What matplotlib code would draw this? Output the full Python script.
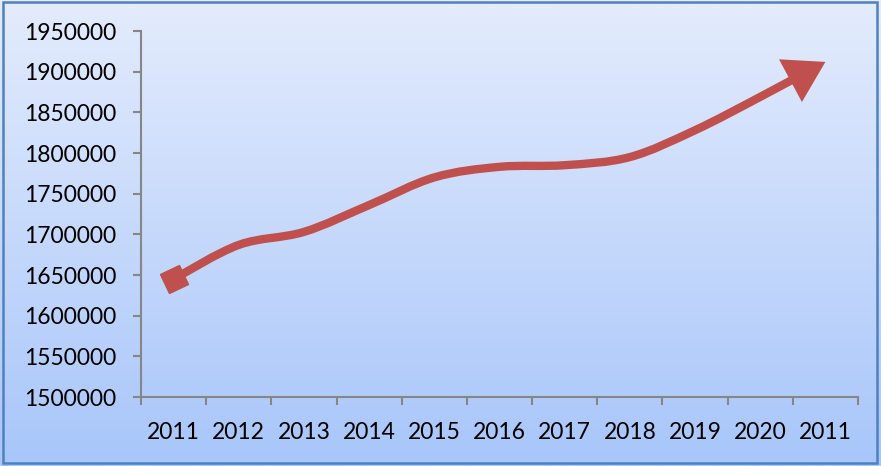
import matplotlib
matplotlib.use("Agg")
import matplotlib.pyplot as plt
import numpy as np
from matplotlib.path import Path
from matplotlib.patches import FancyArrowPatch, Rectangle
from matplotlib.markers import MarkerStyle
from matplotlib.transforms import Affine2D

plt.rcParams['font.family'] = ['Lato', 'DejaVu Sans']

years = ['2011', '2012', '2013', '2014', '2015', '2016',
         '2017', '2018', '2019', '2020', '2011']
values = [1645000, 1687000, 1703000, 1736000, 1770000, 1783000,
          1785000, 1795000, 1828000, 1869000, 1912000]
yticks = list(range(1500000, 1950001, 50000))

line_color = '#C0504D'
axis_gray = '#868686'

fig = plt.figure(figsize=(8.81, 4.66), dpi=100)

# gradient background over the whole figure
bg = fig.add_axes([0, 0, 1, 1], zorder=-10)
top = np.array([228, 236, 253]) / 255.0
bot = np.array([168, 198, 250]) / 255.0
t = np.linspace(0, 1, 256)[:, None]
grad = (top * (1 - t) + bot * t)[:, None, :]
bg.imshow(grad, aspect='auto', extent=[0, 1, 0, 1], origin='upper')
bg.set_axis_off()

# border
fig.patches.append(Rectangle((0.003, 0.006), 0.992, 0.99, transform=fig.transFigure,
                             fill=False, edgecolor='#4F81BD', lw=1.8))

ax = fig.add_axes([141 / 881, 69 / 466, 717 / 881, 366 / 466])
ax.patch.set_alpha(0)

x = np.arange(len(values))
y = np.array(values, dtype=float)

# smooth curve through the points (Catmull-Rom as cubic Bezier segments)
verts = [(x[0], y[0])]
codes = [Path.MOVETO]
n = len(x)
for i in range(n - 1):
    p0 = (x[i - 1], y[i - 1]) if i > 0 else (x[i], y[i])
    p1 = (x[i], y[i])
    p2 = (x[i + 1], y[i + 1])
    p3 = (x[i + 2], y[i + 2]) if i + 2 < n else (x[i + 1], y[i + 1])
    c1 = (p1[0] + (p2[0] - p0[0]) / 6, p1[1] + (p2[1] - p0[1]) / 6)
    c2 = (p2[0] - (p3[0] - p1[0]) / 6, p2[1] - (p3[1] - p1[1]) / 6)
    verts += [c1, c2, p2]
    codes += [Path.CURVE4] * 3

arrow = FancyArrowPatch(path=Path(verts, codes), arrowstyle='-|>,head_length=0.9,head_width=0.55',
                        mutation_scale=22, lw=6, color=line_color,
                        shrinkA=0, shrinkB=0, capstyle='butt', joinstyle='miter')
ax.add_patch(arrow)

# square at the start, turned along the line
m = MarkerStyle('s', transform=Affine2D().rotate_deg(25))
ax.plot(x[0], y[0], marker=m, markersize=15, color=line_color, linestyle='none')

ax.set_xlim(-0.5, len(values) - 0.5)
ax.set_ylim(1500000, 1950000)
ax.set_yticks(yticks)
ax.set_yticklabels([str(v) for v in yticks])
ax.set_xticks(x)
ax.set_xticklabels(years)
ax.set_xticks(np.arange(-0.5, len(values), 1.0), minor=True)

for s in ['top', 'right']:
    ax.spines[s].set_visible(False)
for s in ['left', 'bottom']:
    ax.spines[s].set_color(axis_gray)
    ax.spines[s].set_linewidth(1.5)

ax.tick_params(axis='y', length=6, width=1.5, color=axis_gray, pad=12, labelsize=16.5)
ax.tick_params(axis='x', which='major', length=0, pad=18, labelsize=16.5)
ax.tick_params(axis='x', which='minor', length=6, width=1.5, color=axis_gray)

fig.savefig('out.png', dpi=100)
